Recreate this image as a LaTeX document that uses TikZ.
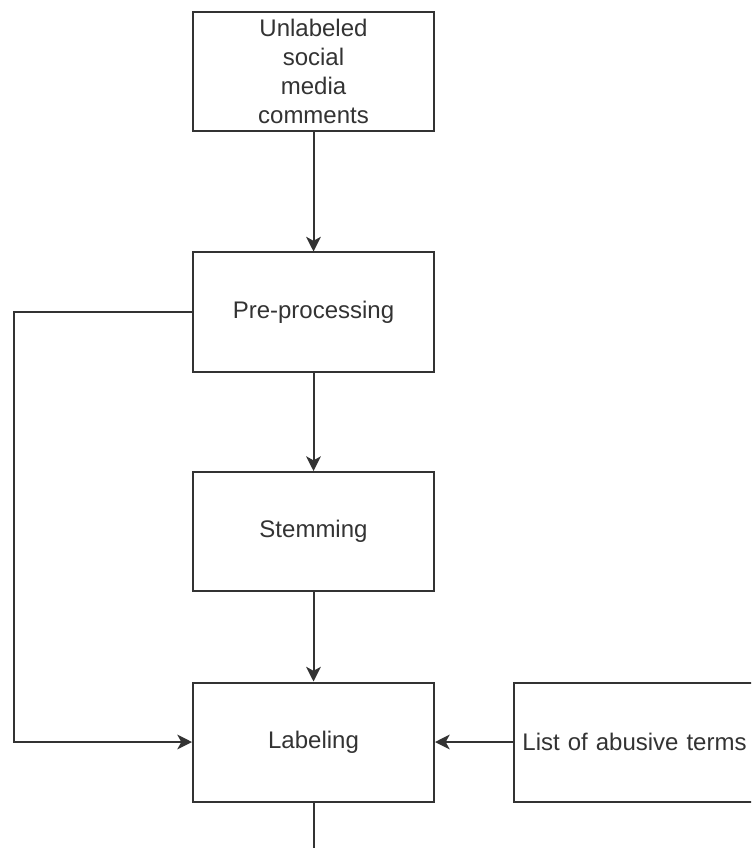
\documentclass[tikz,border=0pt]{standalone}
\usepackage{fontspec}
\setmainfont{Liberation Sans}
\usetikzlibrary{arrows.meta}
\definecolor{ln}{HTML}{333333}
\definecolor{tx}{HTML}{333333}
\tikzset{
  box/.style={draw=ln, line width=1.5pt, fill=white, minimum width=180.75pt, minimum height=89.25pt, inner sep=0pt, align=center, text=tx, font=\fontsize{18}{21.6}\selectfont, text width=170pt},
  conn/.style={draw=ln, line width=1.5pt, -{Stealth[length=11pt,width=11pt,inset=3pt]}},
  plain/.style={draw=ln, line width=1.5pt}
}
\begin{document}
\begin{tikzpicture}[x=0.75pt,y=-0.75pt]
\useasboundingbox (0,0) rectangle (751,848);
\clip (0,0) rectangle (751,848);
\fill[white] (0,0) rectangle (751,848);
\node[box] (a) at (313.5,71.5) {Unlabeled\\social\\media\\comments};
\node[box] (b) at (313.5,312) {Pre-processing};
\node[box] (c) at (313.5,531.5) {Stemming};
\node[box] (d) at (313.5,742) {Labeling};
\node[box] (e) at (634.5,742) {List of abusive terms};
\coordinate (bl) at (13.5,312);
\coordinate (dl) at (13.5,742);
\coordinate (out) at (313.5,852);
\draw[conn] (a.south) -- (b.north);
\draw[conn] (b.south) -- (c.north);
\draw[conn] (c.south) -- (d.north);
\draw[conn] (e.west) -- (d.east);
\draw[conn] (b.west) -- (bl) -- (dl) -- (d.west);
\draw[plain] (d.south) -- (out);
\end{tikzpicture}
\end{document}
